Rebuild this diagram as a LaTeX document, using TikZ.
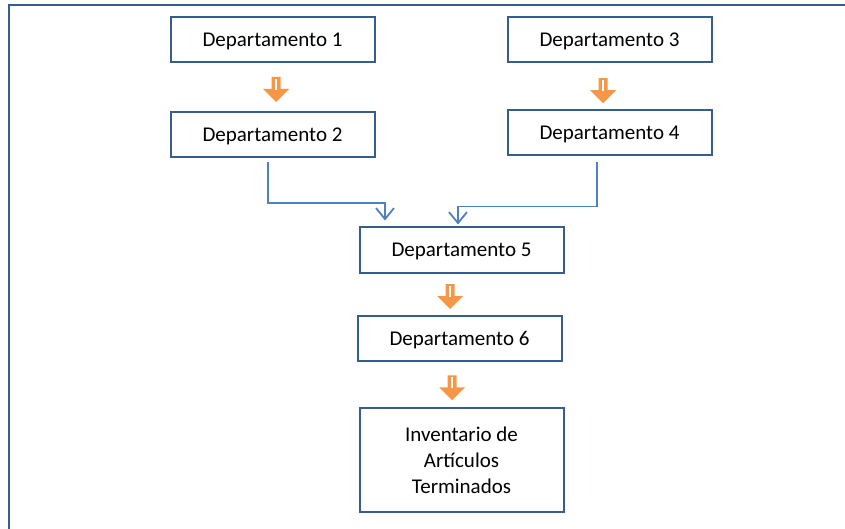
\documentclass[tikz,border=0pt]{standalone}
\usepackage{fontspec}
\setmainfont{Carlito}
\usetikzlibrary{arrows.meta, calc}

\definecolor{borde}{RGB}{56,93,138}
\definecolor{azul}{RGB}{79,129,189}
\definecolor{naranja}{RGB}{247,150,70}

\begin{document}
\begin{tikzpicture}[
  x=1pt, y=-1pt,
  depto/.style={draw=borde, line width=2pt, fill=white, minimum width=204pt, minimum height=45pt,
    font=\fontsize{21}{26}\selectfont, align=center, text depth=0pt},
  conector/.style={draw=azul, line width=1.5pt, -{Straight Barb[length=11pt, width=18pt, line width=1.8pt]}},
  flecha/.pic={
    \fill[naranja] (-4.5,-12) -- (4.5,-12) -- (4.5,0) -- (13,0) -- (0,13) -- (-13,0) -- (-4.5,0) -- cycle;
    \draw[white, line width=1.3pt] (0,-10) -- (0,1);
  }
]
\useasboundingbox (0,0) rectangle (845,529);

% Frame
\draw[borde, line width=2pt] (845,5) -- (9,5) -- (9,529);

% Nodes
\node[depto] (d1) at (272.5,39.5) {Departamento 1};   % top left
\node[depto] (d2) at (272.5,134.5) {Departamento 2};
\node[depto] (d3) at (609.5,39.5) {Departamento 3};   % top right
\node[depto] (d4) at (609.5,133) {Departamento 4};
\node[depto] (d5) at (461.5,250) {Departamento 5};    % where both lines meet
\node[depto] (d6) at (459.5,338) {Departamento 6};
\node[depto, minimum height=104pt] (inv) at (461.5,460) {Inventario de\\Artículos\\Terminados};

% Orange block arrows
\pic at ($(d1.south)!.5!(d2.north) + (3.5,2)$) {flecha};
\pic at ($(d3.south)!.5!(d4.north) + (-6.5,4)$) {flecha};
\pic at ($(d5.south)!.5!(d6.north) + (-10.5,2)$) {flecha};
\pic at ($(d6.south)!.5!(inv.north) + (-8.5,3)$) {flecha};

% Arrows
\draw[conector] ([xshift=-4.5pt, yshift=-4pt]d2.south) -- ++(0,41) -| ([xshift=-76.5pt, yshift=6pt]d5.north);   % 2 to 5
\draw[conector] ([xshift=-12.5pt, yshift=-6pt]d4.south) -- ++(0,44) -| ([xshift=-3.5pt, yshift=2pt]d5.north);   % 4 to 5
\end{tikzpicture}
\end{document}
